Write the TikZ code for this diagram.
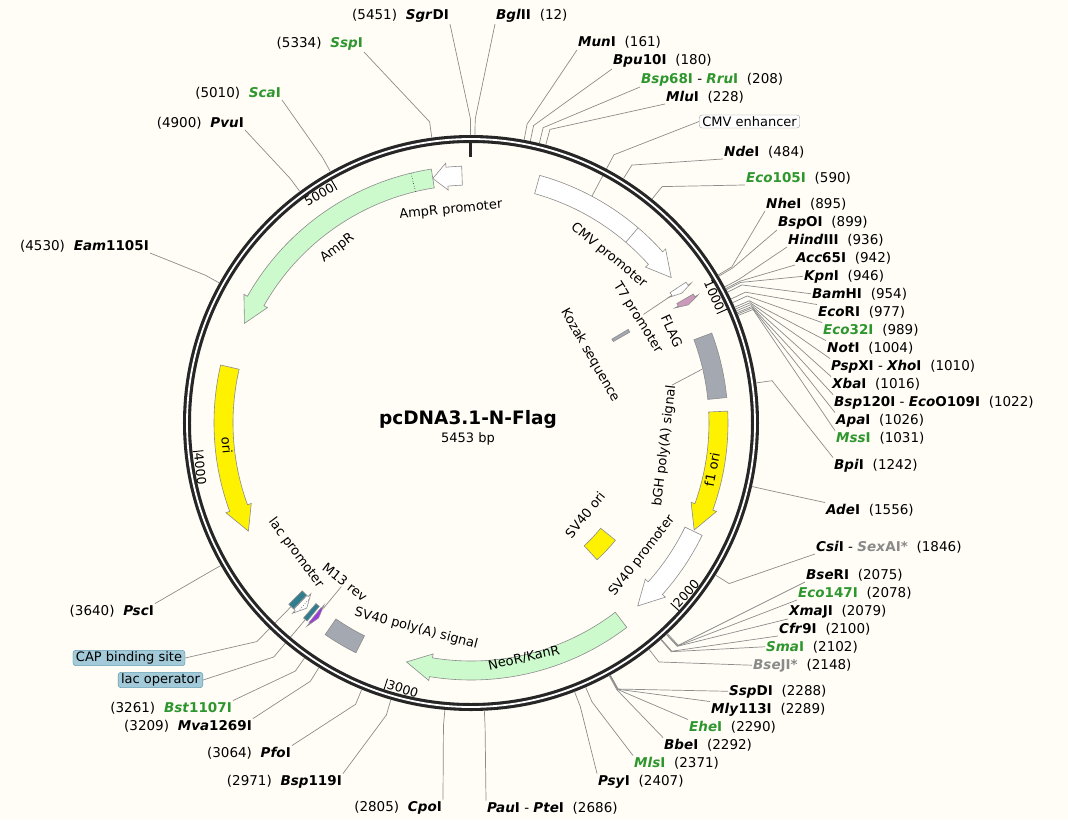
\documentclass[tikz,border=0pt]{standalone}
\usepackage{fontspec}
\setmainfont{DejaVu Sans}[ItalicFont={DejaVu Sans Oblique},BoldFont={DejaVu Sans Bold},BoldItalicFont={DejaVu Sans Bold Oblique}]

\definecolor{paper}{HTML}{FFFDF5}
\definecolor{ringcol}{HTML}{262626}
\definecolor{leadcol}{HTML}{8C8C8C}
\definecolor{ezgreen}{HTML}{2E962E}
\definecolor{ezgray}{HTML}{8A8A8A}
\definecolor{mint}{HTML}{CCFACC}
\definecolor{polyA}{HTML}{A4A8B0}
\definecolor{flagpink}{HTML}{CC99BB}
\definecolor{lacteal}{HTML}{2F7D8F}
\definecolor{primer}{HTML}{9A3BE0}
\definecolor{bindbox}{HTML}{A3CAD8}
\definecolor{bindline}{HTML}{4E8DA2}

\newcommand{\ez}[2]{\textbf{\textit{#1}#2}}
\newcommand{\gz}[2]{\textcolor{ezgreen}{\ez{#1}{#2}}}
\newcommand{\hz}[2]{\textcolor{ezgray}{\ez{#1}{#2}}}
\newcommand{\ezgap}{\hspace{.65em}}

% box feature: from bp #1 to bp #2, radii #3..#4, fill #5
\newcommand{\featbox}[5]{%
  \pgfmathsetmacro\aone{bpa(#1)}%
  \pgfmathsetmacro\atwo{bpa(#2)}%
  \draw[feat, fill=#5] (\aone:#3) arc[start angle=\aone, end angle=\atwo, radius=#3]
    -- (\atwo:#4) arc[start angle=\atwo, end angle=\aone, radius=#4] -- cycle;}
% arrow feature: from bp #1 to tip at bp #2, head #3 degrees, fill #4
\newcommand{\featarrow}[4]{%
  \pgfmathsetmacro\aone{bpa(#1)}%
  \pgfmathsetmacro\atwo{bpa(#2)}%
  \pgfmathsetmacro\abase{\atwo+#3*sign(\aone-\atwo)}%
  \draw[feat, fill=#4] (\aone:257) arc[start angle=\aone, end angle=\abase, radius=257]
    -- (\abase:261) -- (\atwo:247.5) -- (\abase:234) -- (\abase:238)
    arc[start angle=\abase, end angle=\aone, radius=238] -- cycle;}

\tikzset{
  feat/.style={draw=black!45, line width=0.6pt},
  leader/.style={draw=leadcol, line width=0.7pt},
  ezlabel/.style={font=\fontsize{13.5}{15}\selectfont, inner sep=1pt},
  flabel/.style={font=\fontsize{13}{15}\selectfont, inner sep=0.5pt},
  ticklabel/.style={font=\fontsize{12.5}{14}\selectfont, inner sep=1.5pt},
  tagbox/.style={flabel, draw=bindline, fill=bindbox, rounded corners=3pt, inner xsep=3pt, inner ysep=1.5pt},
}

\begin{document}
\begin{tikzpicture}[x=1pt, y=1pt, declare function={bpa(\x)=90-0.0660187*\x;}]
\useasboundingbox (-471,-397) rectangle (597,423);
\fill[paper] (-471,-397) rectangle (597,423);

% features
\featarrow{5421}{5318}{3.3}{white}
\featarrow{5318}{4449}{5.8}{mint}
\draw[black, dotted, line width=0.6pt] ({bpa(5248)}:238) -- ({bpa(5248)}:257);
\featarrow{235}{818}{5.8}{white}
\draw[feat] ({bpa(614.5)}:238) -- ({bpa(614.5)}:257);
\featarrow{860}{884}{0.8}{white}
\featbox{897}{912}{164}{183}{polyA}
\featarrow{907}{931}{0.9}{flagpink}
\featbox{1053}{1277}{238}{257}{polyA}
\featarrow{1323}{1751}{5.8}{yellow}
\featarrow{1756}{2085}{5.8}{white}
\featbox{1955}{2080}{167}{186}{yellow}
\featarrow{2161}{2955}{5.8}{mint}
\featbox{3129}{3250}{238}{257}{polyA}
\featarrow{3318}{3302}{0.9}{primer}
\featbox{3326}{3342}{238}{257}{lacteal}
\featarrow{3386}{3356}{1.6}{white}
\draw[black, dotted, line width=0.5pt] ({bpa(3371)}:240) -- ({bpa(3371)}:255);
\featbox{3388}{3410}{238}{257}{lacteal}
\featarrow{4287}{3697}{5.8}{yellow}

% feature labels
\node[flabel, rotate=5.4] (lampp) at (95.4:214) {AmpR promoter};
\node[flabel, rotate=37.4] (lamp) at (127.4:220) {AmpR};
\node[flabel, rotate=-84.8] (lori) at (-174.8:245) {ori};
\node[flabel, rotate=-53.4] (llacp) at (-143.4:218) {lac promoter};
\node[flabel, rotate=-38.4] (lm13) at (-128.4:203) {M13 rev};
\node[flabel, rotate=-14.9] (lsvpa) at (-104.9:213) {SV40 poly(A) signal};
\node[flabel, rotate=12.7] (lneo) at (-77.3:241) {NeoR/KanR};
\node[flabel, rotate=52.1] (lsvp) at (-37.9:216.6) {SV40 promoter};
\node[flabel, rotate=51.1] (lsvori) at (-38.9:146.5) {SV40 ori};
\node[flabel, rotate=83.2] (lbgh) at (-6.8:195) {bGH poly(A) signal};
\node[flabel, rotate=79] (lf1) at (-11:245.5) {f1 ori};
\node[flabel, rotate=-60.3] (lkozak) at (29.7:137) {Kozak sequence};
\node[flabel, rotate=-57.8] (lt7) at (32.2:197) {T7 promoter};
\node[flabel, rotate=-65.4] (lflag) at (24.6:221) {FLAG};
\node[flabel, rotate=-39.4] (lcmvp) at (50.6:217) {CMV promoter};
\draw[leader] (lt7.north) -- ({bpa(872)}:237);
\draw[leader] (lbgh.east) -- ({bpa(1165)}:237);
\draw[leader] (lm13.south) -- ({bpa(3310)}:237);

% boxed labels
\node[tagbox, fill=white, draw=black!40] (cmvenh) at (278.5,301.5) {CMV enhancer};
\draw[leader] ({bpa(425)}:257) -- ({bpa(425)}:304) -- (cmvenh.west);
\node[tagbox] (capsite) at (-342,-235) {CAP binding site};
\draw[leader] ({bpa(3399)}:257) -- ({bpa(3399)}:306) -- (capsite.east);
\node[tagbox] (lacop) at (-310.5,-257) {lac operator};
\draw[leader] ({bpa(3334)}:257) -- ({bpa(3334)}:306) -- (lacop.east);

% backbone
\draw[ringcol, line width=8pt] (0,0) circle[radius=284];
\draw[white, line width=1.8pt] (0,0) circle[radius=284];
\draw[ringcol, line width=3pt] (90:283) -- (90:266);
\foreach \k in {1000,2000,3000,4000,5000}
  \draw[black, line width=0.9pt] ({bpa(\k)}:280) -- ({bpa(\k)}:269);
\foreach \k in {1000,5000}
  \node[ticklabel, anchor=east, rotate={bpa(\k)-90}] (t\k) at ({bpa(\k)}:274) {\k};
\foreach \k in {2000,3000,4000}
  \node[ticklabel, anchor=west, rotate={bpa(\k)+90}] (t\k) at ({bpa(\k)}:274) {\k};

% title
\node[font=\fontsize{18.5}{20}\selectfont\bfseries] (title) at (-3,4) {pcDNA3.1-N-Flag};
\node[font=\fontsize{13}{15}\selectfont] (size) at (-3,-16) {5453 bp};

% sites, right side
\foreach \bp/\px/\py/\an/\lab in {
  12/24/403/south west/{\ez{Bgl}{II}\ezgap(12)},
  161/106/376/south west/{\ez{Mun}{I}\ezgap(161)},
  180/141/358/south west/{\ez{Bpu}{10I}\ezgap(180)},
  208/169/340/south west/{\gz{Bsp}{68I} - \gz{Rru}{I}\ezgap(208)},
  228/194/322/south west/{\ez{Mlu}{I}\ezgap(228)},
  484/252/267/south west/{\ez{Nde}{I}\ezgap(484)},
  590/274/241/south west/{\gz{Eco}{105I}\ezgap(590)},
  895/294/215/south west/{\ez{Nhe}{I}\ezgap(895)},
  899/306/197/south west/{\ez{Bsp}{OI}\ezgap(899)},
  936/316/179/south west/{\ez{Hind}{III}\ezgap(936)},
  942/324/161/south west/{\ez{Acc}{65I}\ezgap(942)},
  946/332/143/west/{\ez{Kpn}{I}\ezgap(946)},
  954/340/125/west/{\ez{Bam}{HI}\ezgap(954)},
  977/346/107/north west/{\ez{Eco}{RI}\ezgap(977)},
  989/351/89/north west/{\gz{Eco}{32I}\ezgap(989)},
  1004/355/71/north west/{\ez{Not}{I}\ezgap(1004)},
  1010/359/53/north west/{\ez{Psp}{XI} - \ez{Xho}{I}\ezgap(1010)},
  1016/360/35/north west/{\ez{Xba}{I}\ezgap(1016)},
  1022/362/17/north west/{\ez{Bsp}{120I} - \ez{Eco}{O109I}\ezgap(1022)},
  1026/364/-1/north west/{\ez{Apa}{I}\ezgap(1026)},
  1031/364/-19/north west/{\gz{Mss}{I}\ezgap(1031)},
  1242/362/-46/north west/{\ez{Bpi}{I}\ezgap(1242)},
  1556/354/-91/north west/{\ez{Ade}{I}\ezgap(1556)},
  1846/344/-128/south west/{\ez{Csi}{I} - \hz{Sex}{AI*}\ezgap(1846)},
  2075/334/-156/south west/{\ez{Bse}{RI}\ezgap(2075)},
  2078/326/-174/south west/{\gz{Eco}{147I}\ezgap(2078)},
  2079/317/-192/south west/{\ez{Xma}{JI}\ezgap(2079)},
  2100/307/-210/south west/{\ez{Cfr}{9I}\ezgap(2100)},
  2102/294/-228/west/{\gz{Sma}{I}\ezgap(2102)},
  2148/281/-246/west/{\hz{Bse}{JI*}\ezgap(2148)},
  2288/257/-272/west/{\ez{Ssp}{DI}\ezgap(2288)},
  2289/239/-290/north west/{\ez{Mly}{113I}\ezgap(2289)},
  2290/217/-308/north west/{\gz{Ehe}{I}\ezgap(2290)},
  2292/192/-326/north west/{\ez{Bbe}{I}\ezgap(2292)},
  2371/162/-344/north west/{\gz{Mls}{I}\ezgap(2371)},
  2407/126/-362/north west/{\ez{Psy}{I}\ezgap(2407)},
  2686/15/-389/north west/{\ez{Pau}{I} - \ez{Pte}{I}\ezgap(2686)}}
{
  \node[ezlabel, anchor=base west] (e\bp) at (\px,\py) {\lab};
  \draw[leader] ({bpa(\bp)}:288) -- ({bpa(\bp)}:304) -- (e\bp.\an);
}

% sites, left side
\foreach \bp/\px/\py/\an/\lab in {
  5451/-21/403/south east/{(5451)\ezgap\ez{Sgr}{DI}},
  5334/-107/375/south east/{(5334)\ezgap\gz{Ssp}{I}},
  5010/-189/326/south east/{(5010)\ezgap\gz{Sca}{I}},
  4900/-226/296/south east/{(4900)\ezgap\ez{Pvu}{I}},
  4530/-321/173/south east/{(4530)\ezgap\ez{Eam}{1105I}},
  3640/-316/-192/north east/{(3640)\ezgap\ez{Psc}{I}},
  3261/-238/-289/north east/{(3261)\ezgap\gz{Bst}{1107I}},
  3209/-218/-307/north east/{(3209)\ezgap\ez{Mva}{1269I}},
  3064/-179/-334/north east/{(3064)\ezgap\ez{Pfo}{I}},
  2971/-128/-362/north east/{(2971)\ezgap\ez{Bsp}{119I}},
  2805/-28/-388/north east/{(2805)\ezgap\ez{Cpo}{I}}}
{
  \node[ezlabel, anchor=base east] (e\bp) at (\px,\py) {\lab};
  \draw[leader] ({bpa(\bp)}:288) -- ({bpa(\bp)}:304) -- (e\bp.\an);
}
\end{tikzpicture}
\end{document}
